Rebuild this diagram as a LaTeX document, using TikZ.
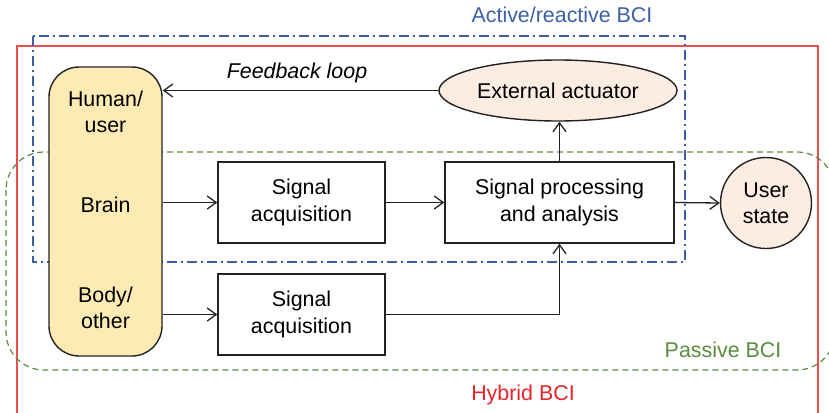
\documentclass[tikz,border=0pt]{standalone}
\usepackage{fontspec}
\setmainfont{Liberation Sans}
\usetikzlibrary{arrows.meta,shapes.geometric,calc}
\definecolor{actblue}{HTML}{3C5FA8}
\definecolor{hybred}{HTML}{E8232A}
\definecolor{hybline}{HTML}{EE4B4B}
\definecolor{pasgreen}{HTML}{5B8B3E}
\definecolor{userfill}{HTML}{FDEBB3}
\definecolor{peach}{HTML}{FCECE2}
\definecolor{edge}{HTML}{222222}
\tikzset{
  txt/.style={font=\fontsize{10.7}{13.2}\selectfont, align=center, text=black},
  block/.style={txt, draw=edge, line width=0.7pt, rectangle, fill=white,
                minimum width=83.5pt, minimum height=40.5pt, inner sep=0pt},
  link/.style={draw=edge, line width=0.65pt, -{Straight Barb[length=4.5pt,width=6.5pt]}},
}
\begin{document}
\begin{tikzpicture}[x=0.5pt, y=-0.5pt]
\useasboundingbox (0,0) rectangle (829,412);
\clip (0,0) rectangle (829,412);

% group outlines
\draw[hybline, line width=0.7pt] (17,420) -- (17,46) -- (818,46) -- (818,420);
\draw[actblue, line width=0.6pt, dash pattern=on 5pt off 2pt on 1pt off 2pt]
  (33,36) rectangle (685,262);
\draw[pasgreen, line width=0.6pt, dash pattern=on 3pt off 2pt, rounded corners=19pt]
  (6,152) rectangle (835,370);

% group labels
\node[txt, text=actblue] (lblact) at (562,15) {Active/reactive BCI};
\node[txt, text=pasgreen] (lblpas) at (723,350) {Passive BCI};
\node[txt, text=hybred] (lblhyb) at (523,395) {Hybrid BCI};

% human / user column
\node[draw=edge, line width=0.7pt, fill=userfill, rounded corners=15pt,
      minimum width=56.5pt, minimum height=144.5pt, inner sep=0pt] (human) at (105.5,211.5) {};
\node[txt] (humanlbl) at (105.5,112) {Human/\\user};
\node[txt] (brainlbl) at (105.5,205) {Brain};
\node[txt] (bodylbl) at (105.5,308) {Body/\\other};

% processing chain
\node[block] (acqa) at (301.5,202.5) {Signal\\acquisition};
\node[block] (acqb) at (301.5,314.5) {Signal\\acquisition};
\node[block, minimum width=114.5pt] (proc) at (559.5,202.5) {Signal processing\\and analysis};
\node[txt, ellipse, draw=edge, line width=0.7pt, fill=peach,
      minimum width=119pt, minimum height=30.5pt, inner sep=0pt] (act) at (558,90.5) {External actuator};
\node[txt, circle, draw=edge, line width=0.7pt, fill=peach,
      minimum size=45.5pt, inner sep=0pt] (ustate) at (766,203) {User\\state};

% connectors
\draw[link] (acqa.west -| human.east) -- (acqa.west);
\draw[link] (acqb.west -| human.east) -- (acqb.west);
\draw[link] (acqa.east) -- (proc.west);
\draw[link] (proc.east) -- (ustate.west);
\draw[link] (proc.north) -- (proc.north |- act.south);
\draw[link] (acqb.east) -| (proc.south);
\draw[link] (act.west) -- (act.west -| human.east);
\node[txt, font=\fontsize{10.7}{13.2}\selectfont\itshape] (fbl) at (297,73) {Feedback loop};
\end{tikzpicture}
\end{document}
